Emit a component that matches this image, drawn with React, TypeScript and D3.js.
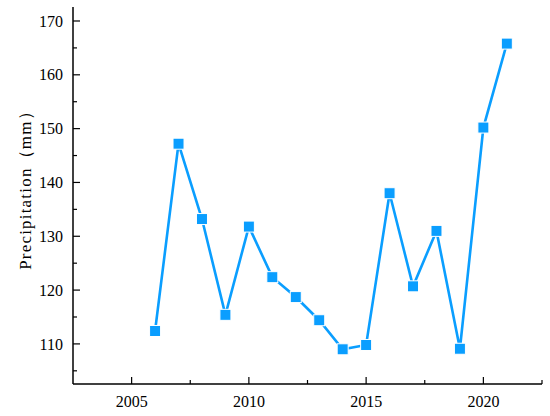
import React from 'react';
import * as d3 from 'd3';

const years = [2006, 2007, 2008, 2009, 2010, 2011, 2012, 2013, 2014, 2015, 2016, 2017, 2018, 2019, 2020, 2021];
const precipitation = [112.4, 147.2, 133.2, 115.4, 131.8, 122.4, 118.7, 114.4, 109.0, 109.8, 138.0, 120.7, 131.0, 109.1, 150.2, 165.8];
const yTicks = [110, 120, 130, 140, 150, 160, 170];
const yMinor = [105, 115, 125, 135, 145, 155, 165];
const xTicks = [2005, 2010, 2015, 2020];
const xMinor = [2007.5, 2012.5, 2017.5, 2022.5];

const width = 550;
const height = 416;
const margin = { top: 7, right: 8, bottom: 32, left: 73 };

const App = () => {
  const xScale = d3.scaleLinear()
    .domain([2002.5, 2022.5])
    .range([margin.left, width - margin.right]);
  const yScale = d3.scaleLinear()
    .domain([102.55, 172.6])
    .range([height - margin.bottom, margin.top]);

  const points = years.map((yr, i) => ({ year: yr, x: xScale(yr), y: yScale(precipitation[i]) }));
  const line = d3.line<{ x: number; y: number }>().x(d => d.x).y(d => d.y);

  const x0 = margin.left;
  const y0 = height - margin.bottom;
  const font = 'Liberation Serif, Times New Roman, DejaVu Serif, serif';
  const blue = '#0a9eff';

  return (
    <svg width={width} height={height} style={{ position: 'absolute', left: 0, top: 0 }}>
      <rect width={width} height={height} fill="#fff" />
      {/* axes */}
      <line x1={x0} x2={x0} y1={margin.top} y2={y0} stroke="#000" strokeWidth={1.5} />
      <line x1={x0} x2={width - margin.right} y1={y0} y2={y0} stroke="#000" strokeWidth={1.5} />
      {yTicks.map(t => (
        <g key={t}>
          <line x1={x0} x2={x0 + 7} y1={yScale(t)} y2={yScale(t)} stroke="#000" strokeWidth={1.2} />
          <text x={x0 - 10} y={yScale(t)} dy="0.35em" textAnchor="end" fontFamily={font} fontSize={16}>{t}</text>
        </g>
      ))}
      {yMinor.map(t => (
        <line key={t} x1={x0} x2={x0 + 4} y1={yScale(t)} y2={yScale(t)} stroke="#000" strokeWidth={1.2} />
      ))}
      {xTicks.map(t => (
        <g key={t}>
          <line x1={xScale(t)} x2={xScale(t)} y1={y0} y2={y0 - 7} stroke="#000" strokeWidth={1.2} />
          <text x={xScale(t)} y={y0 + 23} textAnchor="middle" fontFamily={font} fontSize={16}>{t}</text>
        </g>
      ))}
      {xMinor.map(t => (
        <line key={t} x1={xScale(t)} x2={xScale(t)} y1={y0} y2={y0 - 4} stroke="#000" strokeWidth={1.2} />
      ))}
      <text
        transform={`translate(31,186) rotate(-90)`}
        textAnchor="middle"
        fontFamily={font}
        fontSize={17}
        letterSpacing={1.2}
      >
        Precipitation（mm）
      </text>
      {/* series */}
      <path d={line(points) || ''} fill="none" stroke={blue} strokeWidth={2.6} />
      {points.map(p => (
        <rect key={p.year} x={p.x - 5.5} y={p.y - 5.5} width={11} height={11} fill={blue} stroke="#fff" strokeWidth={1} />
      ))}
    </svg>
  );
};

export default App;
